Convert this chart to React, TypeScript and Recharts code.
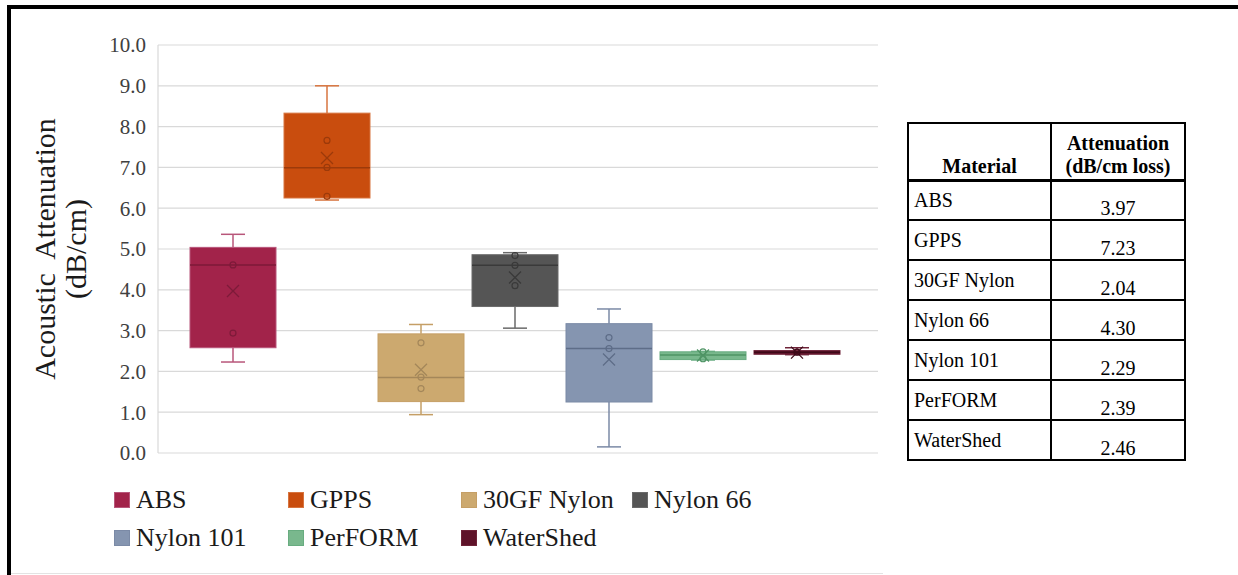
import { ComposedChart, Bar, XAxis, YAxis, CartesianGrid } from 'recharts';

// Five-number summaries per material (dB/cm)
const MATERIALS = ['ABS', 'GPPS', '30GF Nylon', 'Nylon 66', 'Nylon 101', 'PerFORM', 'WaterShed'];
const WHISKER_LOW = [2.23, 6.2, 0.94, 3.06, 0.15, 2.28, 2.41];
const Q1 = [2.58, 6.25, 1.26, 3.59, 1.25, 2.29, 2.42];
const MEDIAN = [4.61, 6.99, 1.85, 4.6, 2.56, 2.4, 2.47];
const Q3 = [5.04, 8.33, 2.92, 4.86, 3.17, 2.48, 2.51];
const WHISKER_HIGH = [5.36, 9.0, 3.15, 4.91, 3.53, 2.49, 2.58];
const MEAN = [3.97, 7.23, 2.04, 4.3, 2.29, 2.39, 2.46];
const INNER_POINTS = [
  [4.61, 2.94],
  [7.66, 7.0, 6.29],
  [2.7, 1.86, 1.58],
  [4.84, 4.6, 4.1],
  [2.83, 2.56],
  [2.48, 2.31],
  [2.47],
];
const Y_TICKS = [0, 1, 2, 3, 4, 5, 6, 7, 8, 9, 10];

const FILL = ['#A2234A', '#C94D0E', '#CCA96F', '#555555', '#8595B0', '#79B88D', '#5E1229'];
const EDGE = ['#B8567A', '#D7743F', '#C59F66', '#6A6A6A', '#7B8AA6', '#68AC80', '#6E2338'];
const MARK = ['#7D1A39', '#9C3A0A', '#A4875A', '#3A3A3A', '#5E6D88', '#4F9465', '#3E0A19'];

const FONT = "'Liberation Serif', 'Times New Roman', serif";

const chartData = MATERIALS.map((name, i) => ({
  name,
  idx: i,
  low: WHISKER_LOW[i],
  high: WHISKER_HIGH[i],
  range: [WHISKER_LOW[i], WHISKER_HIGH[i]],
}));

// Draws whiskers, box, median, mean cross and inner points inside the range bar
function BoxShape(props: any) {
  const { x, y, width, height, payload } = props;
  const i = payload.idx;
  const top = Math.min(y, y + height);
  const k = Math.abs(height) / (payload.high - payload.low);
  const py = (v: number) => top + (payload.high - v) * k;
  const cx = x + width / 2;
  const cap = 12;
  const yQ1 = py(Q1[i]);
  const yQ3 = py(Q3[i]);
  const yMean = py(MEAN[i]);
  const m = 6;
  return (
    <g>
      <line x1={cx} x2={cx} y1={py(WHISKER_HIGH[i])} y2={yQ3} stroke={EDGE[i]} strokeWidth={1.5} />
      <line x1={cx} x2={cx} y1={yQ1} y2={py(WHISKER_LOW[i])} stroke={EDGE[i]} strokeWidth={1.5} />
      <line x1={cx - cap} x2={cx + cap} y1={py(WHISKER_HIGH[i])} y2={py(WHISKER_HIGH[i])} stroke={EDGE[i]} strokeWidth={1.5} />
      <line x1={cx - cap} x2={cx + cap} y1={py(WHISKER_LOW[i])} y2={py(WHISKER_LOW[i])} stroke={EDGE[i]} strokeWidth={1.5} />
      <rect x={x} y={yQ3} width={width} height={yQ1 - yQ3} fill={FILL[i]} stroke={EDGE[i]} strokeWidth={1} />
      <line x1={x} x2={x + width} y1={py(MEDIAN[i])} y2={py(MEDIAN[i])} stroke={MARK[i]} strokeWidth={1.5} />
      {INNER_POINTS[i].map((v, j) => (
        <circle key={j} cx={cx} cy={py(v)} r={3} fill="none" stroke={MARK[i]} strokeWidth={1.2} />
      ))}
      <path
        d={`M${cx - m},${yMean - m}L${cx + m},${yMean + m}M${cx - m},${yMean + m}L${cx + m},${yMean - m}`}
        stroke={MARK[i]}
        strokeWidth={1.3}
      />
    </g>
  );
}

function AxisTitle() {
  return (
    <g fill="#1a1a1a" fontSize={30} fontFamily={FONT}>
      <text transform="translate(55,249) rotate(-90)" textAnchor="middle" style={{ whiteSpace: 'pre' }}>
        {'Acoustic  Attenuation'}
      </text>
      <text transform="translate(86,249) rotate(-90)" textAnchor="middle">
        (dB/cm)
      </text>
    </g>
  );
}

const LEGEND_COLS = [114, 288, 461, 632];
const LEGEND_ROWS = [500, 538];

export default function App() {
  const cellBorder = '2px solid #000';
  return (
    <div style={{ position: 'relative', width: 1238, height: 575, background: '#fff', fontFamily: FONT, overflow: 'hidden' }}>
      <style>{'body{margin:0}'}</style>
      <div
        style={{
          position: 'absolute',
          left: 7,
          top: 5,
          width: 1231,
          height: 570,
          borderTop: '4px solid #000',
          borderLeft: '4px solid #000',
          boxSizing: 'border-box',
        }}
      />
      <div style={{ position: 'absolute', left: 11, top: 573, width: 872, height: 1, background: '#e3e3e3' }} />

      <div style={{ position: 'absolute', left: 0, top: 0 }}>
        <ComposedChart
          width={900}
          height={575}
          data={chartData}
          margin={{ top: 45, right: 22, bottom: 122, left: 0 }}
          style={{ fontFamily: FONT }}
        >
          <CartesianGrid vertical={false} stroke="#d9d9d9" strokeWidth={1.2} />
          <XAxis dataKey="name" hide padding={{ left: 28, right: 34 }} />
          <YAxis
            type="number"
            domain={[0, 10]}
            ticks={Y_TICKS}
            interval={0}
            width={158}
            tickLine={false}
            tickSize={0}
            tickMargin={12}
            axisLine={{ stroke: '#d9d9d9', strokeWidth: 1.2 }}
            tickFormatter={(v: number) => v.toFixed(1)}
            tick={{ fontSize: 21, fill: '#404040', fontFamily: FONT }}
            label={<AxisTitle />}
          />
          <Bar dataKey="range" barSize={86} isAnimationActive={false} shape={<BoxShape />} />
        </ComposedChart>
      </div>

      {MATERIALS.map((name, i) => {
        const left = LEGEND_COLS[i % 4];
        const cy = LEGEND_ROWS[Math.floor(i / 4)];
        return (
          <div
            key={name}
            style={{ position: 'absolute', left, top: cy - 16, height: 32, display: 'flex', alignItems: 'center', whiteSpace: 'nowrap' }}
          >
            <span style={{ width: 16, height: 16, background: FILL[i], border: `1px solid ${EDGE[i]}`, boxSizing: 'border-box', marginRight: 6 }} />
            <span style={{ fontSize: 26, color: '#1a1a1a' }}>{name}</span>
          </div>
        );
      })}

      <table
        style={{
          position: 'absolute',
          left: 907,
          top: 122,
          width: 277,
          borderCollapse: 'collapse',
          tableLayout: 'fixed',
          fontSize: 20,
          color: '#000',
          fontFamily: FONT,
        }}
      >
        <colgroup>
          <col style={{ width: 143 }} />
          <col style={{ width: 134 }} />
        </colgroup>
        <thead>
          <tr style={{ height: 57 }}>
            <th style={{ border: cellBorder, borderBottom: '3px solid #000', verticalAlign: 'bottom', padding: '0 0 1px 0', lineHeight: '23px' }}>
              Material
            </th>
            <th style={{ border: cellBorder, borderBottom: '3px solid #000', verticalAlign: 'bottom', padding: '0 0 1px 0', lineHeight: '23px' }}>
              Attenuation
              <br />
              (dB/cm loss)
            </th>
          </tr>
        </thead>
        <tbody>
          {MATERIALS.map((name, i) => (
            <tr key={name} style={{ height: 40 }}>
              <td style={{ border: cellBorder, padding: '0 0 0 5px', verticalAlign: 'middle', lineHeight: '22px' }}>{name}</td>
              <td style={{ border: cellBorder, padding: 0, textAlign: 'center', verticalAlign: 'bottom', lineHeight: '22px' }}>
                {MEAN[i].toFixed(2)}
              </td>
            </tr>
          ))}
        </tbody>
      </table>
    </div>
  );
}
